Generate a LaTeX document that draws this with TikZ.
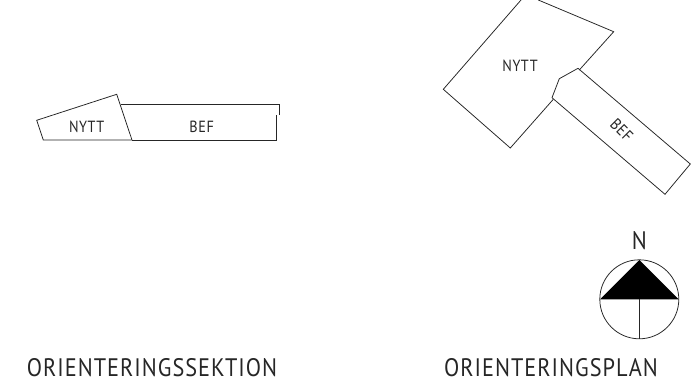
\documentclass[tikz,border=0pt]{standalone}
\usepackage{fontspec}
\setmainfont{PT Sans}[LetterSpace=4,FakeStretch=0.88]
\tikzset{
    wall/.style={draw=black!85, line width=.55pt},
    smalltext/.style={font=\fontsize{11.5}{12}\selectfont, inner sep=0pt, text=black!85},
    bigtext/.style={font=\fontsize{18}{20}\selectfont, inner sep=0pt, text=black!85}
}
\begin{document}
\begin{tikzpicture}[x=.025cm,y=-.025cm]
        \useasboundingbox (0,0) rectangle (699,382);
        \clip (0,0) rectangle (699,382);

        %section, new part
        \draw [wall] (36.7,120.3) -- (116.7,94.3) -- (132,140) -- (43.3,140) -- cycle;
        \node [smalltext] (sectionnew) at (86.7,126.5) {NYTT};

        %section, existing part
        \draw [wall] (121,104.3) -- (279.3,104.3) -- (279.3,115);
        \draw [wall] (276,115) -- (276,140) -- (132,140);
        \node [smalltext] (sectionold) at (201.7,126.5) {BEF};

        %plan, new part
        \draw [wall] (521,0) -- (443.3,89.3) -- (510.3,148) -- (553.3,99.3);
        \draw [wall] (579.3,70) -- (613.7,31.7) -- (538.3,0);
        \node [smalltext] (plannew) at (520,66) {NYTT};

        %plan, existing part
        \draw [wall] (552,97.7) -- (559.3,78.7) -- (578,68.3) -- (690.3,164) -- (665,194.3) -- cycle;
        \node [smalltext, rotate=-45] (planold) at (621.7,130) {BEF};

        %north arrow
        \draw [wall] (639.3,299.3) circle [radius=39.5];
        \fill [black] (639.3,260) -- (600,299.3) -- (678.6,299.3) -- cycle;
        \draw [wall] (639.3,299.3) -- (639.3,338.8);
        \node [bigtext] (north) at (639.3,241) {N};

        %titles
        \node [bigtext] (sectiontitle) at (152,367.8) {ORIENTERINGSSEKTION};
        \node [bigtext] (plantitle) at (551,367.8) {ORIENTERINGSPLAN};
\end{tikzpicture}
\end{document}
